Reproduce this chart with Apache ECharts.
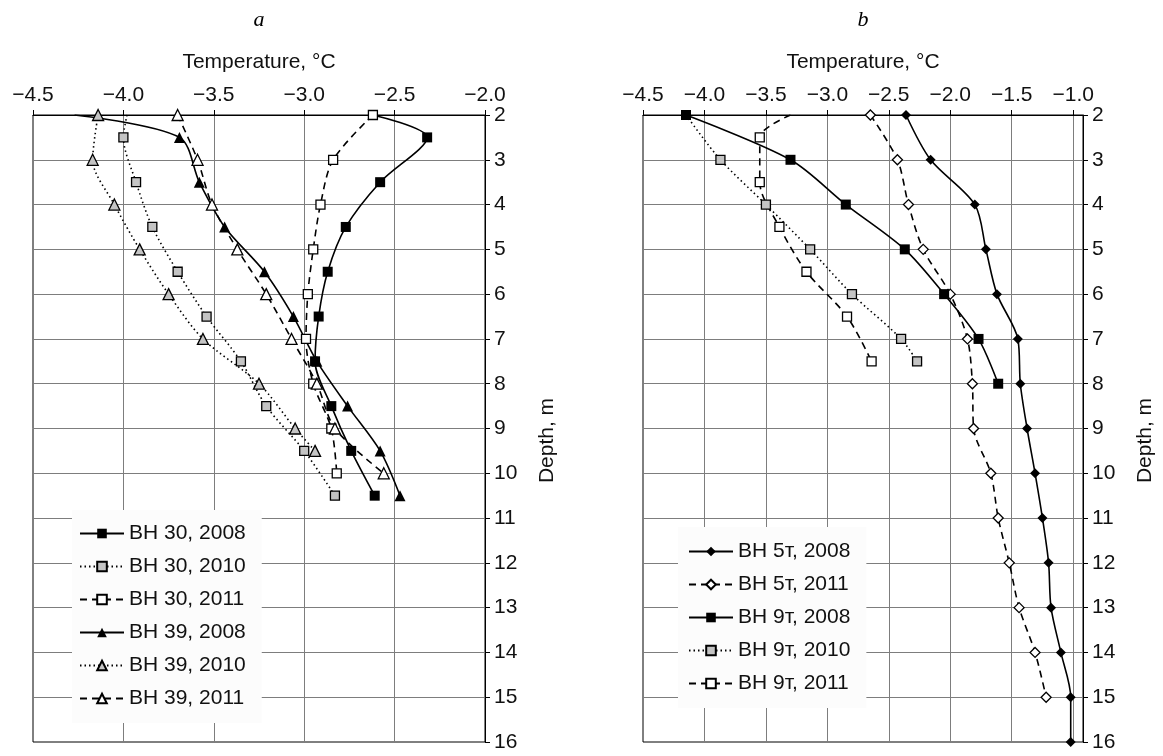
<!DOCTYPE html>
<html>
<head>
<meta charset="utf-8">
<script src="https://cdn.jsdelivr.net/npm/echarts@6/dist/echarts.min.js"></script>
<style>
  html, body { margin: 0; padding: 0; background: #fff; }
  #chart { width: 1163px; height: 756px; }
</style>
</head>
<body>
<div id="chart"></div>
<script>
// panel a: depths (m) and temperatures (°C)
const depthHalfA = [2, 2.5, 3.5, 4.5, 5.5, 6.5, 7.5, 8.5, 9.5, 10.5]
const depthWholeA = [2, 3, 4, 5, 6, 7, 8, 9, 10]
const depth39_2010 = [2, 3, 4, 5, 6, 7, 8, 9, 9.5]
const bh30_2008 = [-2.62, -2.32, -2.58, -2.77, -2.87, -2.92, -2.94, -2.85, -2.74, -2.61]
const bh30_2010 = [-3.98, -4.0, -3.93, -3.84, -3.70, -3.54, -3.35, -3.21, -3.0, -2.83]
const bh30_2011 = [-2.62, -2.84, -2.91, -2.95, -2.98, -2.99, -2.95, -2.85, -2.82]
const bh39_2008 = [-4.27, -3.69, -3.58, -3.44, -3.22, -3.06, -2.93, -2.76, -2.58, -2.47]
const bh39_2010 = [-4.14, -4.17, -4.05, -3.91, -3.75, -3.56, -3.25, -3.05, -2.94]
const bh39_2011 = [-3.70, -3.59, -3.51, -3.37, -3.21, -3.07, -2.93, -2.83, -2.56]

// panel b
const depth5_2008 = [2, 3, 4, 5, 6, 7, 8, 9, 10, 11, 12, 13, 14, 15, 16]
const depth5_2011 = [2, 3, 4, 5, 6, 7, 8, 9, 10, 11, 12, 13, 14, 15]
const depth9_2008 = [2, 3, 4, 5, 6, 7, 8]
const depth9_2010 = [2, 3, 4, 5, 6, 7, 7.5]
const depth9_2011 = [2, 2.5, 3.5, 4.5, 5.5, 6.5, 7.5]
const bh5_2008 = [-2.36, -2.16, -1.80, -1.71, -1.62, -1.45, -1.43, -1.375, -1.31, -1.25, -1.20, -1.18, -1.10, -1.02, -1.02]
const bh5_2011 = [-2.65, -2.43, -2.34, -2.22, -2.0, -1.86, -1.82, -1.81, -1.67, -1.61, -1.52, -1.44, -1.31, -1.22]
const bh9_2008 = [-4.15, -3.30, -2.85, -2.37, -2.05, -1.77, -1.61]
const bh9_2010 = [-4.15, -3.87, -3.50, -3.14, -2.80, -2.40, -2.27]
const bh9_2011 = [-3.30, -3.55, -3.55, -3.39, -3.17, -2.84, -2.64]

const depthTicks = [2, 16]
const tempRangeA = [-4.5, -2.0]
const tempRangeB = [-4.5, -0.92]

const font = '"Liberation Sans", Arial, sans-serif'
const gridGray = '#7d7d7d'
const SOLID = 'solid'
const DASH = [7, 5]
const DOT = [1.5, 3]

const fmtTemp = (v) => v.toFixed(1).replace('-', '\u2212')

// first point of some curves starts at the border without a marker
const pairs = (temps, depths, noMarkFirst) =>
  temps.map((t, i) => (noMarkFirst && i === 0 ? { value: [t, depths[i]], symbol: 'none' } : [t, depths[i]]))

const makeSeries = (name, idx, temps, depths, style, noMarkFirst) => ({
  name,
  type: 'line',
  xAxisIndex: idx,
  yAxisIndex: idx,
  smooth: 0.3,
  symbol: style.symbol,
  symbolSize: style.size,
  itemStyle: {
    color: style.fill,
    borderColor: '#000',
    borderWidth: style.fill === '#000' ? 0 : 1.3
  },
  lineStyle: { color: '#000', width: 1.6, type: style.dash },
  data: pairs(temps, depths, noMarkFirst)
})

const filledSq = { symbol: 'rect', size: 10, fill: '#000', dash: SOLID }
const graySq = { symbol: 'rect', size: 9, fill: '#c4c4c4', dash: DOT }
const openSq = { symbol: 'rect', size: 9, fill: '#fff', dash: DASH }
const filledTri = { symbol: 'triangle', size: 11, fill: '#000', dash: SOLID }
const grayTri = { symbol: 'triangle', size: 11, fill: '#c4c4c4', dash: DOT }
const openTri = { symbol: 'triangle', size: 11, fill: '#fff', dash: DASH }
const filledDia = { symbol: 'diamond', size: 10, fill: '#000', dash: SOLID }
const openDia = { symbol: 'diamond', size: 10, fill: '#fff', dash: DASH }

const xAxisFor = (gridIndex, range, hideMax) => ({
  type: 'value',
  gridIndex,
  position: 'top',
  min: range[0],
  max: range[1],
  interval: 0.5,
  name: 'Temperature, °C',
  nameLocation: 'middle',
  nameGap: 42,
  nameMoveOverlap: false,
  nameTextStyle: { fontFamily: font, fontSize: 21, color: '#111' },
  axisLine: { show: true, lineStyle: { color: '#000', width: 1 } },
  axisTick: { show: true, inside: false, length: 5, lineStyle: { color: '#000' } },
  axisLabel: { fontFamily: font, fontSize: 21, color: '#111', margin: 9, formatter: fmtTemp, showMaxLabel: !hideMax },
  splitLine: { show: true, showMinLine: false, showMaxLine: false, lineStyle: { color: gridGray, width: 1 } }
})

const yAxisFor = (gridIndex) => ({
  type: 'value',
  gridIndex,
  position: 'right',
  inverse: true,
  min: depthTicks[0],
  max: depthTicks[1],
  interval: 1,
  name: 'Depth, m',
  nameLocation: 'middle',
  nameRotate: 90,
  nameGap: 52,
  nameMoveOverlap: false,
  nameTextStyle: { fontFamily: font, fontSize: 21, color: '#111', padding: [0, 24, 0, 0] },
  axisLine: { show: true, lineStyle: { color: '#000', width: 1 } },
  axisTick: { show: true, inside: false, length: 5, lineStyle: { color: '#000' } },
  axisLabel: { fontFamily: font, fontSize: 21, color: '#111', margin: 9 },
  splitLine: { show: true, showMinLine: false, showMaxLine: false, lineStyle: { color: gridGray, width: 1 } }
})

const legendFor = (left, top, names, padding) => ({
  orient: 'vertical',
  left,
  top,
  data: names,
  padding,
  itemWidth: 44,
  itemHeight: 12,
  itemGap: 12,
  backgroundColor: '#fcfcfc',
  selectedMode: false,
  textStyle: { fontFamily: font, fontSize: 21, color: '#111' }
})

const chart = echarts.init(document.getElementById('chart'))
chart.setOption({
  animation: false,
  backgroundColor: '#fff',
  grid: [
    { left: 33, top: 115, width: 452, height: 627, show: true, borderColor: '#000', borderWidth: 1, backgroundColor: 'transparent' },
    { left: 643, top: 115, width: 440, height: 627, show: true, borderColor: '#000', borderWidth: 1, backgroundColor: 'transparent' }
  ],
  xAxis: [xAxisFor(0, tempRangeA, false), xAxisFor(1, tempRangeB, true)],
  yAxis: [yAxisFor(0), yAxisFor(1)],
  legend: [
    legendFor(72, 510, ['BH 30, 2008', 'BH 30, 2010', 'BH 30, 2011', 'BH 39, 2008', 'BH 39, 2010', 'BH 39, 2011'], [13, 16, 14, 7]),
    legendFor(678, 527, ['BH 5т, 2008', 'BH 5т, 2011', 'BH 9т, 2008', 'BH 9т, 2010', 'BH 9т, 2011'], [14, 16, 14, 10])
  ],
  graphic: [
    { type: 'text', x: 259, y: 20, style: { text: 'a', font: 'italic 22px "Liberation Serif", serif', fill: '#000', align: 'center', verticalAlign: 'middle' } },
    { type: 'text', x: 863, y: 20, style: { text: 'b', font: 'italic 22px "Liberation Serif", serif', fill: '#000', align: 'center', verticalAlign: 'middle' } }
  ],
  series: [
    makeSeries('BH 30, 2008', 0, bh30_2008, depthHalfA, filledSq, true),
    makeSeries('BH 30, 2010', 0, bh30_2010, depthHalfA, graySq, true),
    makeSeries('BH 30, 2011', 0, bh30_2011, depthWholeA, openSq, false),
    makeSeries('BH 39, 2008', 0, bh39_2008, depthHalfA, filledTri, true),
    makeSeries('BH 39, 2010', 0, bh39_2010, depth39_2010, grayTri, false),
    makeSeries('BH 39, 2011', 0, bh39_2011, depthWholeA, openTri, false),
    makeSeries('BH 5т, 2008', 1, bh5_2008, depth5_2008, filledDia, false),
    makeSeries('BH 5т, 2011', 1, bh5_2011, depth5_2011, openDia, false),
    makeSeries('BH 9т, 2008', 1, bh9_2008, depth9_2008, filledSq, false),
    makeSeries('BH 9т, 2010', 1, bh9_2010, depth9_2010, graySq, true),
    makeSeries('BH 9т, 2011', 1, bh9_2011, depth9_2011, openSq, true)
  ]
})
</script>
</body>
</html>
